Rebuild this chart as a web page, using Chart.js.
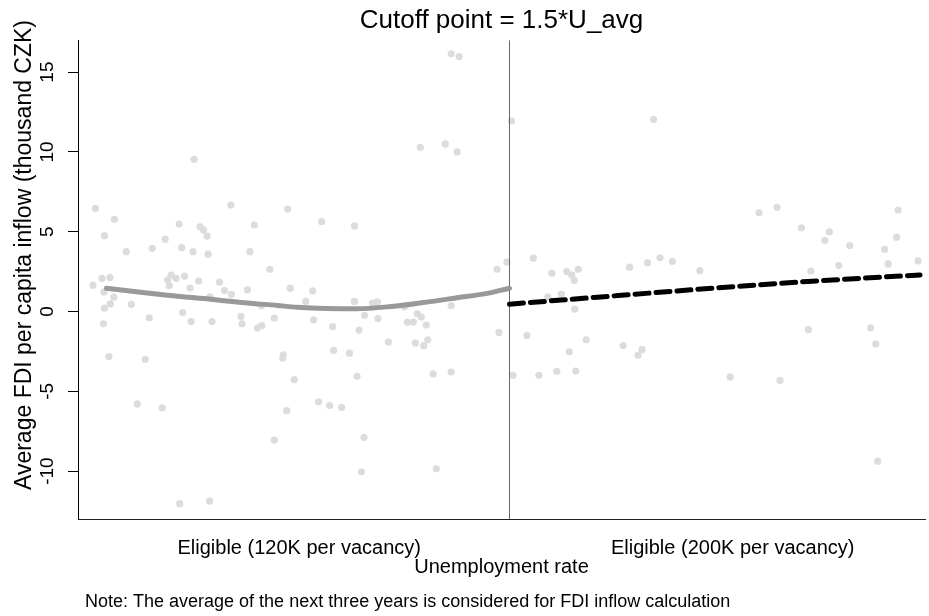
<!DOCTYPE html>
<html lang="en">
<head>
<meta charset="UTF-8">
<title>Cutoff point = 1.5*U_avg</title>
<script src="https://cdn.jsdelivr.net/npm/chart.js"></script>
<style>
  html, body { margin: 0; padding: 0; background: #fff; }
</style>
</head>
<body>
<canvas id="fdiChart" width="929" height="616"></canvas>
<script>
// unemployment rate (%) and average FDI per capita inflow (thousand CZK)
var eligible120X = [3.69, 4.07, 3.87, 4.31, 4.83, 5.09, 5.37, 5.42, 5.65, 5.79,
  5.86, 5.93, 5.95, 6.41, 6.88, 6.79, 7.55, 7.19, 7.60, 3.64,
  3.82, 3.98, 3.86, 4.06, 3.99, 3.87, 4.41, 3.85, 4.77, 5.14,
  5.21, 5.31, 5.48, 5.17, 5.59, 5.76, 6.18, 5.99, 6.28, 6.42,
  6.74, 7.02, 5.44, 5.61, 6.03, 6.61, 6.63, 7.03, 6.94, 7.28,
  3.96, 4.69, 7.46, 7.45, 4.53, 5.03, 5.38, 5.98, 5.67, 7.68,
  7.53, 7.28, 8.23, 8.89, 8.05, 7.91, 8.07, 8.45, 8.47, 8.79,
  8.17, 8.39, 8.63, 8.89, 8.98, 9.09, 9.25, 9.35, 9.36, 9.57,
  8.94, 9.08, 9.03, 9.89, 9.95, 10.07, 10.15, 10.23, 10.33, 10.11,
  10.28, 10.36, 10.47, 10.83, 10.53, 10.83, 11.79, 11.75, 11.95, 10.21,
  10.71, 10.95, 10.83, 10.99];
var eligible120Y = [6.46, 5.78, 4.75, 3.75, 3.96, 4.53, 5.48, 4.00, 3.75, 5.31,
  5.11, 4.73, 3.59, 6.67, 5.42, 3.75, 6.42, 2.65, 1.46, 1.65,
  2.08, 2.13, 1.23, 0.90, 0.48, 0.21, 0.45, -0.77, -0.39, 1.98,
  2.28, 2.08, 2.22, 1.62, 1.47, 1.91, 1.84, 0.92, 1.31, 1.08,
  1.36, 0.36, -0.06, -0.63, -0.63, -0.31, -0.77, -0.88, -1.04, -0.41,
  -2.82, -2.99, -2.71, -2.91, -5.79, -6.04, -12.04, -11.88, 9.54, -4.27,
  -6.21, -8.06, 5.63, 5.36, 1.29, 0.63, -0.52, -0.94, -2.44, -2.61,
  -5.66, -5.89, -6.00, 0.63, -1.16, -0.24, 0.53, 0.61, -0.44, -1.91,
  -4.06, -7.88, -10.04, 0.29, -0.66, -0.66, -0.14, -0.35, -0.85, -1.98,
  -2.14, -1.77, -3.91, -3.79, -9.85, 0.36, -1.31, 2.65, 3.11, 10.29,
  10.50, 10.00, 16.15, 15.98];

var eligible200X = [12.04, 14.89, 12.48, 12.85, 13.15, 13.25, 13.38, 13.30, 12.77, 13.04,
  13.31, 14.41, 14.77, 15.02, 15.27, 15.82, 12.35, 13.54, 13.20, 14.28,
  14.66, 14.58, 12.07, 12.59, 12.95, 13.33, 16.43, 17.43, 17.01, 17.37,
  17.86, 18.42, 18.33, 18.83, 19.80, 19.77, 19.53, 19.60, 20.20, 18.61,
  18.05, 18.00, 19.25, 19.35, 19.39];
var eligible200Y = [11.94, 12.04, 3.34, 2.40, 2.50, 2.29, 2.65, 1.95, 0.92, 1.09,
  0.15, 2.78, 3.06, 3.37, 3.15, 2.56, -1.50, -1.77, -2.52, -2.13,
  -2.39, -2.74, -4.00, -4.00, -3.75, -3.73, -4.10, -4.31, 6.19, 6.53,
  5.25, 4.99, 4.46, 4.13, 6.36, 4.66, 3.90, 2.98, 3.17, 2.88,
  2.54, -1.14, -1.02, -2.04, -9.38];

// fitted lines on each side of the cutoff
var fit120X = [3.91, 4.68, 5.34, 6.00, 6.68, 7.34, 7.74, 8.92, 9.58, 10.24, 10.92, 11.58, 12.0];
var fit120Y = [1.46, 1.17, 0.95, 0.77, 0.55, 0.38, 0.27, 0.17, 0.30, 0.55, 0.85, 1.15, 1.46];
var fit200X = [12.0, 14.18, 16.08, 18.08, 20.24];
var fit200Y = [0.46, 1.00, 1.46, 1.90, 2.29];

var cutoff = 12;
var xMin = 3.34, xMax = 20.34;
var yMin = -13, yMax = 17;
var yTicks = [-10, -5, 0, 5, 10, 15];
var xTickValues = [7.78, 16.48];
var xTickLabels = ['Eligible (120K per vacancy)', 'Eligible (200K per vacancy)'];

var yTitle = 'Average FDI per capita inflow (thousand CZK)';
var noteText = 'Note: The average of the next three years is considered for FDI inflow calculation';

var FONT = '"Liberation Sans", Arial, sans-serif';

function toPoints(xs, ys) {
  return xs.map(function (x, i) { return { x: x, y: ys[i] }; });
}

var extraText = {
  id: 'extraText',
  afterDraw: function (chart) {
    var ctx = chart.ctx;
    var area = chart.chartArea;
    ctx.save();
    ctx.fillStyle = '#000';
    ctx.textBaseline = 'middle';
    ctx.font = '18px ' + FONT;
    ctx.textAlign = 'left';
    ctx.fillText(noteText, area.left + 7, 602);
    ctx.translate(25, 255);
    ctx.rotate(-Math.PI / 2);
    ctx.font = '23px ' + FONT;
    ctx.textAlign = 'center';
    ctx.fillText(yTitle, 0, 0);
    ctx.restore();
  }
};

var ctx = document.getElementById('fdiChart').getContext('2d');
var chart = new Chart(ctx, {
  type: 'scatter',
  data: {
    datasets: [
      {
        type: 'line',
        data: toPoints(fit200X, fit200Y),
        borderColor: '#000',
        borderWidth: 5,
        borderDash: [14, 7],
        borderCapStyle: 'round',
        pointRadius: 0,
        cubicInterpolationMode: 'monotone',
        fill: false
      },
      {
        type: 'line',
        data: toPoints(fit120X, fit120Y),
        borderColor: '#999999',
        borderWidth: 5,
        borderCapStyle: 'round',
        pointRadius: 0,
        cubicInterpolationMode: 'monotone',
        fill: false
      },
      {
        type: 'line',
        data: [{ x: cutoff, y: yMin }, { x: cutoff, y: yMax }],
        borderColor: '#666',
        borderWidth: 1,
        pointRadius: 0,
        fill: false
      },
      {
        data: toPoints(eligible120X, eligible120Y),
        backgroundColor: '#dcdcdc',
        borderWidth: 0,
        pointRadius: 3.6
      },
      {
        data: toPoints(eligible200X, eligible200Y),
        backgroundColor: '#dcdcdc',
        borderWidth: 0,
        pointRadius: 3.6
      }
    ]
  },
  options: {
    responsive: false,
    animation: false,
    devicePixelRatio: 1,
    layout: { padding: { left: 0, right: 1, top: 0, bottom: 30 } },
    plugins: {
      legend: { display: false },
      tooltip: { enabled: false },
      title: {
        display: true,
        text: 'Cutoff point = 1.5*U_avg',
        fullSize: false,
        color: '#000',
        font: { family: FONT, size: 26, weight: 'normal' },
        padding: { top: 5, bottom: 4 }
      }
    },
    scales: {
      x: {
        type: 'linear',
        min: xMin,
        max: xMax,
        grid: { display: false },
        border: { display: true, color: '#222', width: 1 },
        afterBuildTicks: function (scale) {
          scale.ticks = xTickValues.map(function (v) { return { value: v }; });
        },
        afterFit: function (scale) { scale.height = 67; },
        ticks: {
          color: '#000',
          padding: 9,
          maxRotation: 0,
          font: { family: FONT, size: 20 },
          callback: function (value, index) { return xTickLabels[index]; }
        },
        title: {
          display: true,
          text: 'Unemployment rate',
          color: '#000',
          font: { family: FONT, size: 20 },
          padding: { top: 0, bottom: 7 }
        }
      },
      y: {
        min: yMin,
        max: yMax,
        grid: { display: true, drawOnChartArea: false, drawTicks: true, tickLength: 10, color: '#000' },
        border: { display: true, color: '#000', width: 1 },
        afterBuildTicks: function (scale) {
          scale.ticks = yTicks.map(function (v) { return { value: v }; });
        },
        afterFit: function (scale) { scale.width = 78; },
        ticks: {
          color: '#000',
          minRotation: 90,
          maxRotation: 90,
          crossAlign: 'center',
          padding: 7,
          font: { family: FONT, size: 19 }
        },
        title: { display: false }
      }
    }
  },
  plugins: [extraText]
});
</script>
</body>
</html>
